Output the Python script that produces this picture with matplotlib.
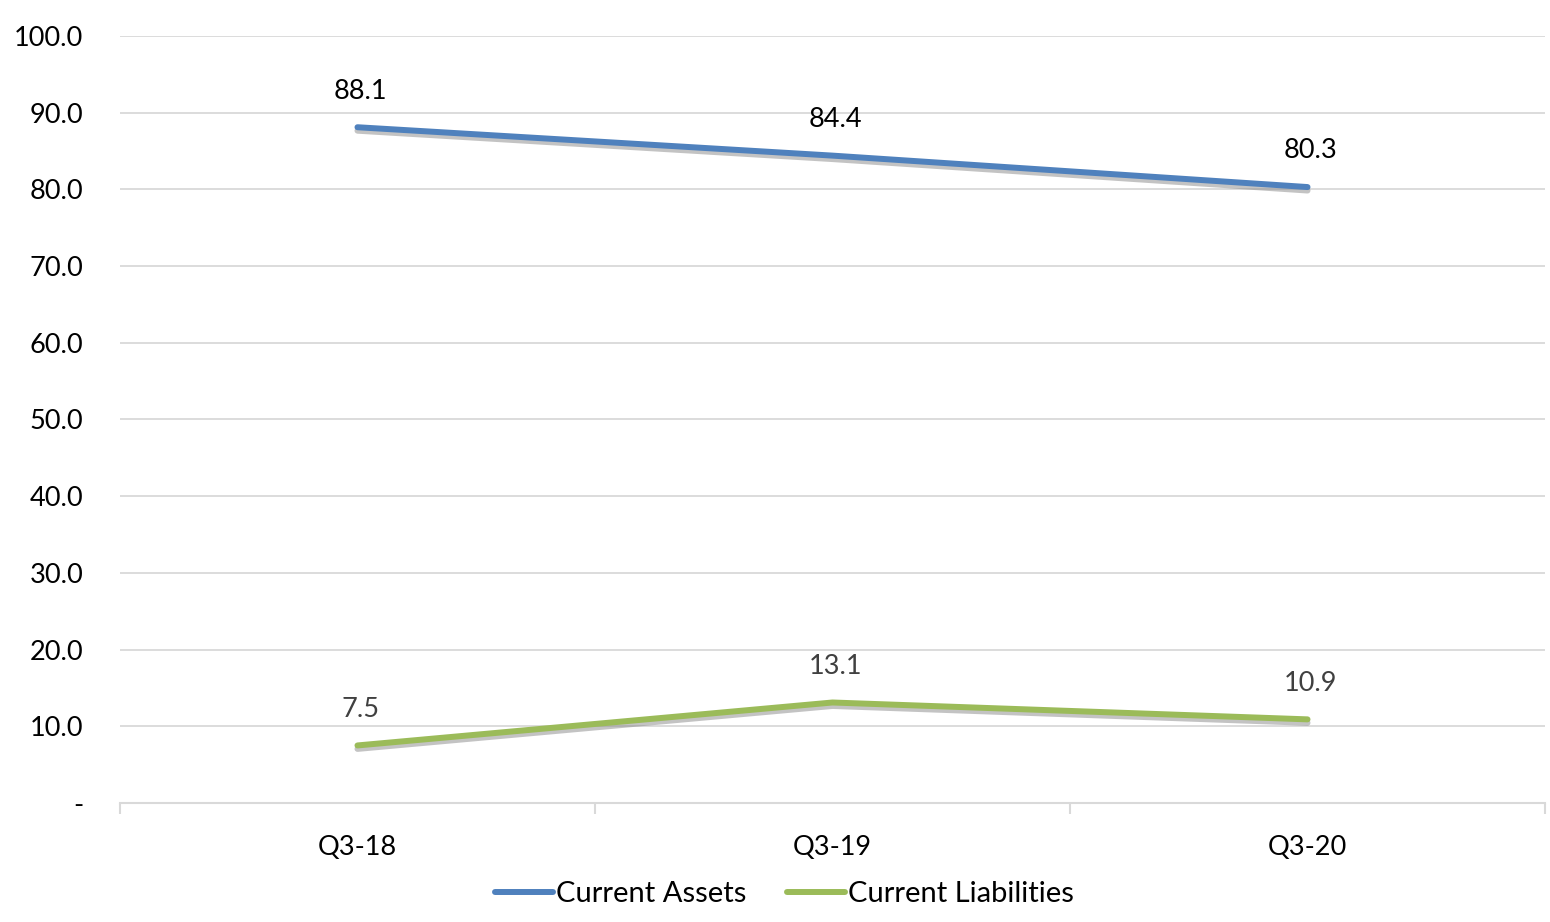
import matplotlib
matplotlib.use("Agg")
import matplotlib.pyplot as plt
import matplotlib.patheffects as pe
import numpy as np

quarters = ["Q3-18", "Q3-19", "Q3-20"]
assets = [88.1, 84.4, 80.3]
liabilities = [7.5, 13.1, 10.9]
yticks = [0, 10, 20, 30, 40, 50, 60, 70, 80, 90, 100]

plt.rcParams["font.family"] = ["Lato", "DejaVu Sans"]
fs = 19.5

fig = plt.figure(figsize=(15.5, 9.22), dpi=100)
ax = fig.add_axes([0.0774, 0.1291, 0.9194, 0.8319])

x = np.arange(len(quarters))
shadow = [pe.SimpleLineShadow(offset=(0, -2.5), shadow_color="#888888", alpha=0.5), pe.Normal()]

ax.plot(x, assets, color="#4F81BD", linewidth=4.3, solid_capstyle="round",
        label="Current Assets", path_effects=shadow, zorder=3)
ax.plot(x, liabilities, color="#9BBB59", linewidth=4.3, solid_capstyle="round",
        label="Current Liabilities", path_effects=shadow, zorder=3)

for xi, v in zip(x, assets):
    ax.annotate(f"{v:.1f}", (xi, v), xytext=(2, 26), textcoords="offset points",
                ha="center", va="center", fontsize=fs, color="#000000")
for xi, v in zip(x, liabilities):
    ax.annotate(f"{v:.1f}", (xi, v), xytext=(2, 26), textcoords="offset points",
                ha="center", va="center", fontsize=fs, color="#404040")

ax.set_xlim(-0.5, 2.5)
ax.set_ylim(0, 100)
ax.set_yticks(yticks)
ax.set_yticklabels(["-"] + [f"{t:.1f}" for t in yticks[1:]], fontsize=fs)
ax.set_xticks(x)
ax.set_xticklabels(quarters, fontsize=fs)
ax.set_xticks([-0.5, 0.5, 1.5, 2.5], minor=True)
ax.tick_params(axis="x", which="major", length=0, pad=23)
ax.tick_params(axis="x", which="minor", length=8, width=1.5, color="#D9D9D9")
ax.tick_params(axis="y", length=0, pad=26.5)

ax.grid(axis="y", color="#D9D9D9", linewidth=1.3)
ax.set_axisbelow(True)
for s in ["top", "right", "left"]:
    ax.spines[s].set_visible(False)
ax.spines["bottom"].set_color("#D9D9D9")
ax.spines["bottom"].set_linewidth(1.5)

leg = fig.legend(loc="center", bbox_to_anchor=(0.506, 0.03), ncol=2, frameon=False,
                 fontsize=21, handlelength=2.0, handletextpad=0.1, columnspacing=1.4)
# legend keys without the drop shadow
for h in leg.get_lines():
    h.set_path_effects([pe.Normal()])

fig.savefig("out.png", dpi=100, facecolor="white")
